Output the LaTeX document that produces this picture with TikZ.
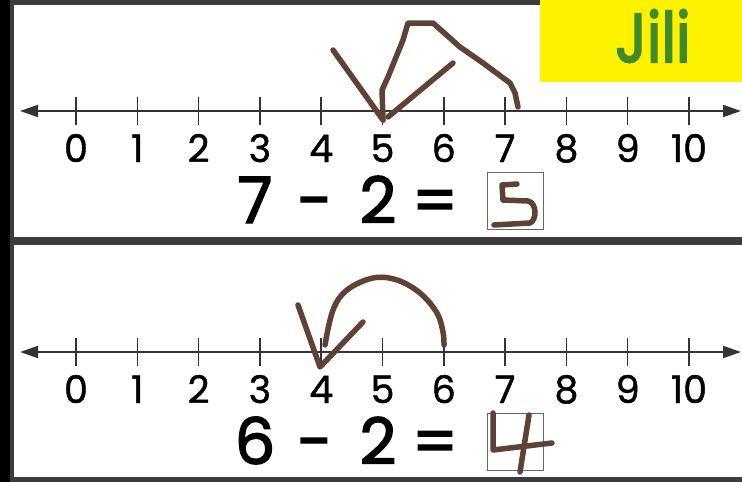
\documentclass[tikz,border=0pt]{standalone}
\usepackage{fontspec}
\setmainfont{Poppins}
\newfontfamily\numfont{Poppins}[FakeBold=1.2]
\newfontfamily\eqfont{Poppins}[FakeBold=2.2]
\newfontfamily\namefont{Poppins}[FakeBold=3]
\usetikzlibrary{arrows.meta}
\definecolor{ink}{HTML}{5E4236}
\definecolor{framegray}{HTML}{3C3C3C}
\definecolor{jgreen}{HTML}{3E8A2C}
\definecolor{axisgray}{HTML}{333333}
\tikzset{
  axisline/.style={draw=axisgray, line width=1.8pt, {Triangle[length=18pt,width=12pt]}-{Triangle[length=18pt,width=12pt]}},
  tickline/.style={draw=axisgray, line width=1.5pt},
  lbl/.style={font=\numfont\fontsize{38}{38}\selectfont, text=black, anchor=base, inner sep=0pt},
  eqn/.style={font=\eqfont\fontsize{64}{64}\selectfont, text=black, anchor=base, inner sep=0pt},
  hand/.style={draw=ink, line width=5.5pt, line cap=round, line join=round},
  ansbox/.style={draw=gray!80!black, line width=1.2pt, fill=none, inner sep=0pt, minimum width=56pt, minimum height=57pt, anchor=north west},
  border/.style={draw=framegray},
}
\begin{document}
\begin{tikzpicture}[x=1pt,y=-1pt]
\useasboundingbox (0,0) rectangle (742,482);
\fill[white] (0,0) rectangle (742,482);
\fill[black] (0,0) rectangle (10,482);
% frame
\draw[border, line width=4pt] (12,0) -- (12,482);
\draw[border, line width=5pt] (10,2.5) -- (540,2.5);
\draw[border, line width=8pt] (10,241) -- (742,241);
\draw[border, line width=5pt] (10,479.5) -- (742,479.5);
% name tag
\node[fill=yellow, minimum width=202pt, minimum height=82pt, anchor=north west, inner sep=0pt] (tag) at (540,0) {};
\node[text=jgreen, font=\namefont\fontsize{69}{69}\selectfont, anchor=base, inner sep=0pt] (name) at (653,62) {\scalebox{0.86}[1]{Jili}};
% number lines
\foreach \k/\yy in {1/111, 2/352} {
  \coordinate (L\k) at (20,\yy);
  \coordinate (R\k) at (741,\yy);
  \draw[axisline] (L\k) -- (R\k);
  \foreach \i in {0,...,10} {
    \coordinate (t\k-\i) at ({76+61.3*\i},\yy);
    \draw[tickline] ({76+61.3*\i},\yy-14) -- ({76+61.3*\i},\yy+14);
    \node[lbl] (n\k-\i) at ({76+61.3*\i},\yy+51) {\i};
  }
}
% equation 1
\node[eqn] (a1) at (255,223) {7};
\node[eqn] (m1) at (315,223) {-};
\node[eqn] (b1) at (378,223) {2};
\node[eqn] (e1) at (435,223) {=};
\node[ansbox] (box1) at (487,172) {};
% equation 2
\node[eqn] (a2) at (255,464) {6};
\node[eqn] (m2) at (315,464) {-};
\node[eqn] (b2) at (378,464) {2};
\node[eqn] (e2) at (435,464) {=};
\node[ansbox] (box2) at (487,413) {};
% handwriting, problem 1
\draw[hand] (333,50) -- (383,120);
\draw[hand] (383,120) -- (382,90) -- (388,77) -- (403,40) -- (408,23) -- (433,23) -- (460,47) -- (483,63) -- (510,83) -- (515,93) -- (518,107);
\draw[hand] (388,117) -- (453,63);
% handwritten 5
\draw[hand] (517,184) -- (502,185) -- (503,200) -- (528,201) .. controls (537,203) and (537,220) .. (530,223) -- (494,225);
% handwriting, problem 2
\draw[hand] (298,305) -- (320,367) -- (363,322);
\draw[hand] plot[smooth, tension=0.6] coordinates {(325,345) (333,310) (347,290) (373,278) (397,280) (420,293) (437,313) (443,332) (444,345)};
% handwritten 4
\draw[hand] (493,413) -- (493,450) -- (552,443);
\draw[hand] (529,415) -- (520,472);
\end{tikzpicture}
\end{document}
